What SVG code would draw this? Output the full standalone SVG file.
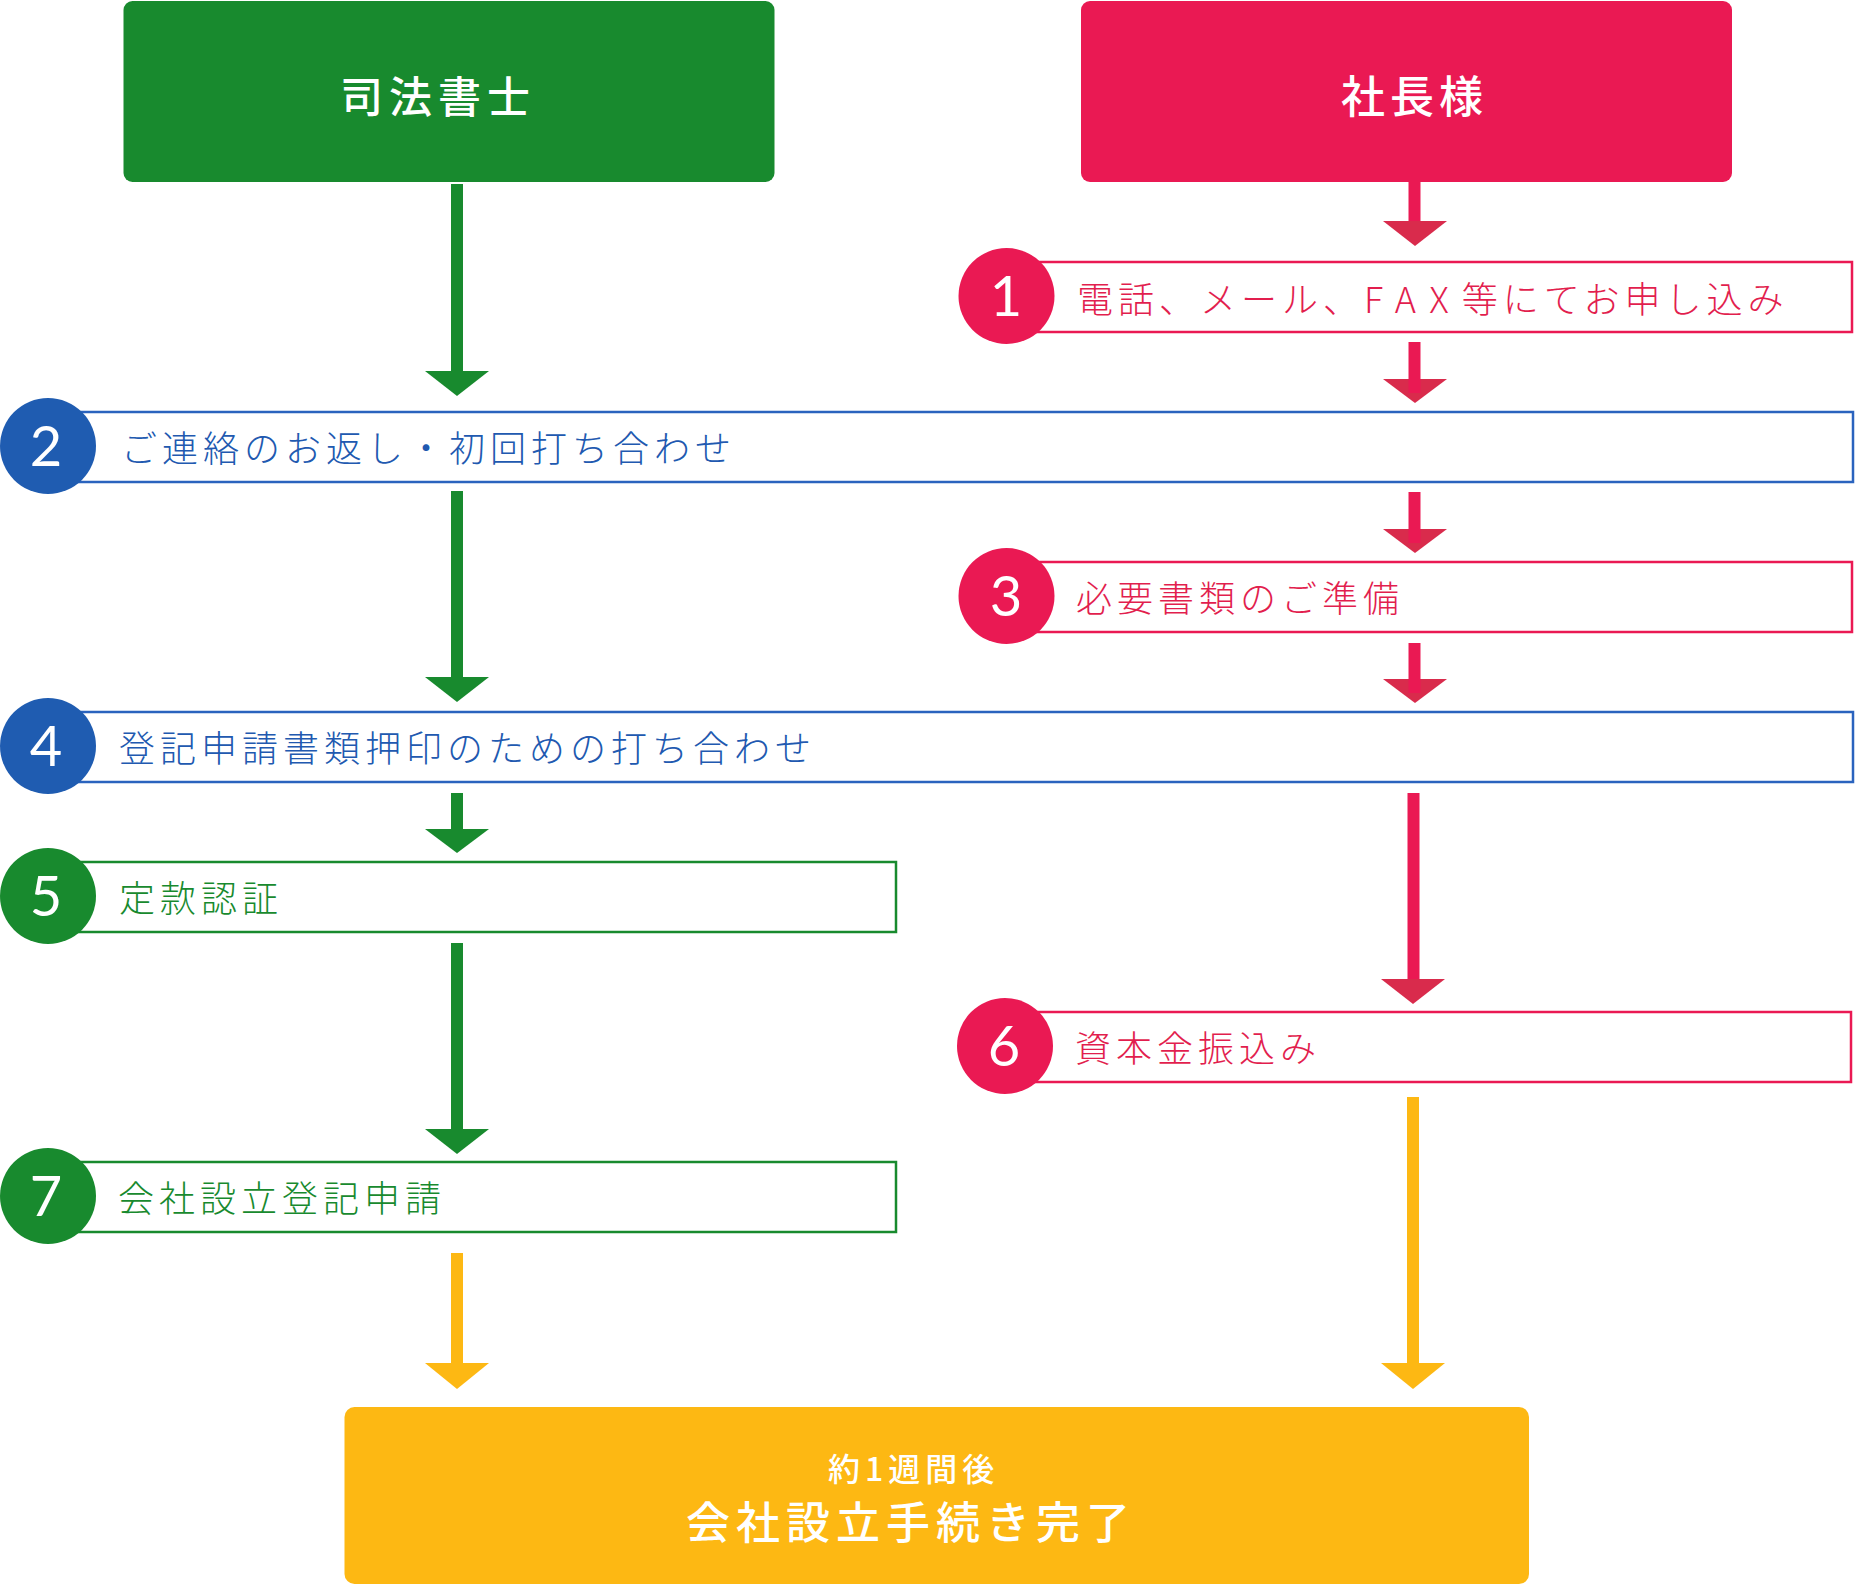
<svg xmlns="http://www.w3.org/2000/svg" width="1856" height="1585" viewBox="0 0 1856 1585">
<style>
.jp{font-family:"Noto Sans CJK JP","Noto Sans CJK SC",sans-serif;font-weight:300}
.step{font-size:36px;letter-spacing:5px;dominant-baseline:central}
.num{font-family:"Lato","Open Sans","Liberation Sans",sans-serif;font-weight:400;font-size:56px;fill:#fff;text-anchor:middle}
.hd{fill:#fff;font-size:43px;letter-spacing:6px;dominant-baseline:central;font-weight:500}
.bar{fill:#fff;stroke-width:2.5}
.g{fill:#188A2E}.r{fill:#EA1953}.b{fill:#1F5CB1}.y{fill:#FDB813}
.gs{stroke:#188A2E}.rs{stroke:#EA1953}.bs{stroke:#2A63BE}
.gt{fill:#188A2E}.rt{fill:#E21E4E}.bt{fill:#2159B0}
.shaft{stroke-width:12;fill:none}
.ys{stroke:#FDB813}
.gh{fill:#188A2E}.rh{fill:#D92B4C}.yh{fill:#FDB813}
.fin{fill:#fff;font-weight:500;dominant-baseline:central}
</style>
<rect width="1856" height="1585" fill="#fff"/>

<g id="header-shihoshoshi">
<rect class="g" x="123.5" y="1" width="651" height="181" rx="9"/>
<text class="jp hd" x="340" y="94">司法書士</text>
</g>
<g id="header-shachosama">
<rect class="r" x="1081" y="1" width="651" height="181" rx="9"/>
<text class="jp hd" x="1341" y="94" style="font-size:44px;letter-spacing:5px">社長様</text>
</g>

<g id="connectors">
<line class="shaft gs" x1="457" y1="184" x2="457" y2="372"/>
<polygon class="gh" points="425,371 489,371 457,396"/>
<line class="shaft gs" x1="457" y1="491" x2="457" y2="678"/>
<polygon class="gh" points="425,677 489,677 457,702"/>
<line class="shaft gs" x1="457" y1="793" x2="457" y2="830"/>
<polygon class="gh" points="425,829 489,829 457,853"/>
<line class="shaft gs" x1="457" y1="943" x2="457" y2="1130"/>
<polygon class="gh" points="425,1129 489,1129 457,1154"/>
<line class="shaft ys" x1="457" y1="1253" x2="457" y2="1364"/>
<polygon class="yh" points="425,1363 489,1363 457,1389"/>

<line class="shaft rs" x1="1414.5" y1="182" x2="1414.5" y2="222"/>
<polygon class="rh" points="1383,221 1447,221 1415,246"/>
<polygon class="rh" points="1383,379 1447,379 1415,403"/>
<line class="shaft rs" x1="1414.5" y1="342" x2="1414.5" y2="393"/>
<polygon class="rh" points="1383,529 1447,529 1415,553"/>
<line class="shaft rs" x1="1414.5" y1="492" x2="1414.5" y2="543"/>
<polygon class="rh" points="1383,679 1447,679 1415,703"/>
<line class="shaft rs" x1="1414.5" y1="643" x2="1414.5" y2="693"/>
<line class="shaft rs" x1="1413.5" y1="793" x2="1413.5" y2="980"/>
<polygon class="rh" points="1381,979 1445,979 1413,1004"/>
<line class="shaft ys" x1="1413" y1="1097" x2="1413" y2="1364"/>
<polygon class="yh" points="1381,1363 1445,1363 1413,1389"/>
</g>

<g id="step1">
<rect class="bar rs" x="1006" y="262" width="846" height="70"/>
<circle class="r" cx="1006.5" cy="296" r="48"/>
<text class="num" x="1006" y="316">1</text>
<text class="jp step rt" x="1077" y="297">電話、メール、<tspan letter-spacing="13">FAX</tspan>等にてお申し込み</text>
</g>
<g id="step2">
<rect class="bar bs" x="48" y="412" width="1805" height="70"/>
<circle class="b" cx="48" cy="446" r="48"/>
<text class="num" x="46" y="466">2</text>
<text class="jp step bt" x="121" y="446">ご連絡のお返し・初回打ち合わせ</text>
</g>
<g id="step3">
<rect class="bar rs" x="1006" y="562" width="846" height="70"/>
<circle class="r" cx="1006.5" cy="596" r="48"/>
<text class="num" x="1006" y="616">3</text>
<text class="jp step rt" x="1076" y="596">必要書類のご準備</text>
</g>
<g id="step4">
<rect class="bar bs" x="48" y="712" width="1805" height="70"/>
<circle class="b" cx="48" cy="746" r="48"/>
<text class="num" x="46" y="766">4</text>
<text class="jp step bt" x="119" y="746">登記申請書類押印のための打ち合わせ</text>
</g>
<g id="step5">
<rect class="bar gs" x="48" y="862" width="848" height="70"/>
<circle class="g" cx="48" cy="896" r="48"/>
<text class="num" x="46" y="916">5</text>
<text class="jp step gt" x="119" y="896">定款認証</text>
</g>
<g id="step6">
<rect class="bar rs" x="1005" y="1012" width="846" height="70"/>
<circle class="r" cx="1005" cy="1046" r="48"/>
<text class="num" x="1004" y="1066">6</text>
<text class="jp step rt" x="1075" y="1046">資本金振込み</text>
</g>
<g id="step7">
<rect class="bar gs" x="48" y="1162" width="848" height="70"/>
<circle class="g" cx="48" cy="1196" r="48"/>
<text class="num" x="46" y="1216">7</text>
<text class="jp step gt" x="118" y="1196">会社設立登記申請</text>
</g>

<g id="complete">
<rect class="y" x="344.5" y="1407" width="1184.5" height="177" rx="10"/>
<text class="jp fin" x="828" y="1467" font-size="32" letter-spacing="5">約1週間後</text>
<text class="jp fin" x="686" y="1520" font-size="44" letter-spacing="6">会社設立手続き完了</text>
</g>
</svg>
